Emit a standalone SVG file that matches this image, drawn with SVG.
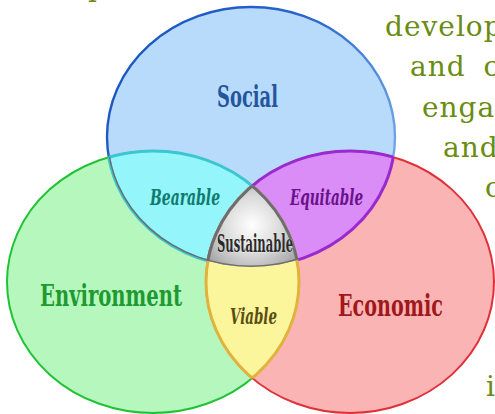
<svg xmlns="http://www.w3.org/2000/svg" width="495" height="414" viewBox="0 0 495 414">
  <defs>
    <style>
      .lbl { font-family: "DejaVu Serif Condensed", "DejaVu Serif", serif; font-weight: bold; }
      .big { font-size: 30px; }
      .small { font-size: 23px; font-style: italic; }
      .prose { font-family: "DejaVu Serif", "Liberation Serif", serif; font-size: 28px; fill: #6a8c12; letter-spacing: 1px; }
    </style>
    <ellipse id="shS" cx="251" cy="137" rx="144" ry="130"/>
    <ellipse id="shE" cx="153" cy="282" rx="146" ry="131"/>
    <ellipse id="shC" cx="350" cy="282" rx="144" ry="131"/>
    <clipPath id="clipS"><use href="#shS"/></clipPath>
    <clipPath id="clipE"><use href="#shE"/></clipPath>
    <clipPath id="clipC"><use href="#shC"/></clipPath>
    <linearGradient id="gBlueStroke" x1="107" y1="7" x2="395" y2="200" gradientUnits="userSpaceOnUse">
      <stop offset="0" stop-color="#1550c0"/>
      <stop offset="0.5" stop-color="#2a66cc"/>
      <stop offset="1" stop-color="#7fb2ea"/>
    </linearGradient>
    <radialGradient id="gGrey" cx="252" cy="225" r="55" gradientUnits="userSpaceOnUse">
      <stop offset="0" stop-color="#ffffff"/>
      <stop offset="0.5" stop-color="#dcdcdc"/>
      <stop offset="1" stop-color="#a4a4a4"/>
    </radialGradient>
  </defs>

  <g id="text-fragments">
    <text class="prose" x="88" y="-4">p</text>
    <text class="prose" x="233" y="-4">,</text>
    <text class="prose" x="385" y="36">develop</text>
    <text class="prose" x="410" y="76" word-spacing="8">and c</text>
    <text class="prose" x="422" y="117">enga</text>
    <text class="prose" x="443" y="157">and</text>
    <text class="prose" x="485" y="197">c</text>
    <text class="prose" x="486" y="396">i</text>
  </g>

  <g id="social">
    <use href="#shS" fill="#b9dbfb" stroke="url(#gBlueStroke)" stroke-width="2.4"/>
  </g>
  <g id="environment">
    <use href="#shE" fill="#b5f7bd" stroke="#22c236" stroke-width="2"/>
  </g>
  <g id="economic">
    <use href="#shC" fill="#fbb4b4" stroke="#e0303a" stroke-width="2"/>
  </g>

  <g id="bearable">
    <g clip-path="url(#clipS)">
      <use href="#shE" fill="#94f6fa" stroke="#3cc6d2" stroke-width="3"/>
    </g>
    <g clip-path="url(#clipE)">
      <use href="#shS" fill="none" stroke="#3cc6d2" stroke-width="3"/>
    </g>
  </g>
  <g id="equitable">
    <g clip-path="url(#clipS)">
      <use href="#shC" fill="#da8cf7" stroke="#9a2ad0" stroke-width="3"/>
    </g>
    <g clip-path="url(#clipC)">
      <use href="#shS" fill="none" stroke="#9a2ad0" stroke-width="3"/>
    </g>
  </g>
  <g id="viable">
    <g clip-path="url(#clipE)">
      <use href="#shC" fill="#fbf59c" stroke="#e2b23e" stroke-width="3"/>
    </g>
    <g clip-path="url(#clipC)">
      <use href="#shE" fill="none" stroke="#e2b23e" stroke-width="3"/>
    </g>
  </g>
  <g id="sustainable">
    <g clip-path="url(#clipS)">
      <g clip-path="url(#clipE)">
        <use href="#shC" fill="url(#gGrey)" stroke="#6e6e6e" stroke-width="3"/>
        <use href="#shS" fill="none" stroke="#6e6e6e" stroke-width="3"/>
      </g>
      <g clip-path="url(#clipC)">
        <use href="#shE" fill="none" stroke="#6e6e6e" stroke-width="3"/>
      </g>
    </g>
  </g>

  <g id="labels">
    <text class="lbl big" x="217" y="107" textLength="61" lengthAdjust="spacingAndGlyphs" fill="#25559e">Social</text>
    <text class="lbl big" x="40" y="306" textLength="142" lengthAdjust="spacingAndGlyphs" fill="#1f9a30">Environment</text>
    <text class="lbl big" x="338" y="316" textLength="105" lengthAdjust="spacingAndGlyphs" fill="#a0181c">Economic</text>
    <text class="lbl small" x="150" y="205" textLength="70" lengthAdjust="spacingAndGlyphs" fill="#0f7a6e">Bearable</text>
    <text class="lbl small" x="290" y="205" textLength="73" lengthAdjust="spacingAndGlyphs" fill="#6a128c">Equitable</text>
    <text class="lbl small" x="230" y="324" textLength="47" lengthAdjust="spacingAndGlyphs" fill="#5a4e12">Viable</text>
    <text class="lbl" x="217" y="252" font-size="25" textLength="76" lengthAdjust="spacingAndGlyphs" fill="#2a2a2a" stroke="#ffffff" stroke-width="0.6" paint-order="stroke">Sustainable</text>
  </g>
</svg>
